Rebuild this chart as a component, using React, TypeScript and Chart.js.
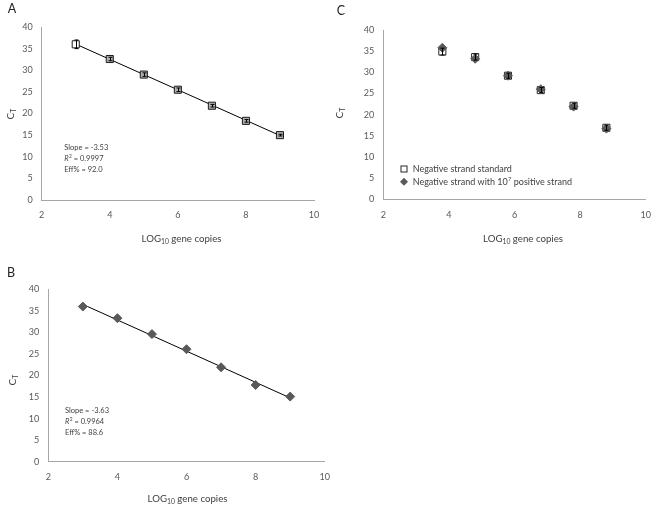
import React, { useEffect, useRef } from "react";
import { Chart, registerables } from "chart.js";

Chart.register(...registerables);

// ---------------- data ----------------
const xTickValues = [2, 4, 6, 8, 10];
const yTickValues = [0, 5, 10, 15, 20, 25, 30, 35, 40];

const logCopiesA = [3, 4, 5, 6, 7, 8, 9];
const ctA = [36.0, 32.6, 29.0, 25.5, 21.8, 18.3, 15.0];
const errA = [1.0, 0.4, 0.4, 0.4, 0.3, 0.3, 0.2];
const trendXA = [3, 9];
const trendYA = [36.05, 14.9];
const statsA = ["Slope = -3.53", " = 0.9997", "Eff% = 92.0"];

const logCopiesB = [3, 4, 5, 6, 7, 8, 9];
const ctB = [36.0, 33.3, 29.6, 26.1, 21.9, 17.8, 15.1];
const trendXB = [3, 9];
const trendYB = [36.5, 14.8];
const statsB = ["Slope = -3.63", " = 0.9964", "Eff% = 88.6"];

const logCopiesC = [3.8, 4.8, 5.8, 6.8, 7.8, 8.8];
const ctCStandard = [34.9, 33.6, 29.2, 25.8, 22.1, 16.9];
const errCStandard = [0.8, 0.7, 0.6, 0.6, 0.6, 0.6];
const ctCWithPositive = [35.8, 33.2, 29.2, 26.0, 21.9, 16.7];
const legendC = ["Negative strand standard", "Negative strand with 10", "7", " positive strand"];

const panelLabels = ["A", "B", "C"];

// ---------------- styling helpers ----------------
const FONT = "Lato, 'Open Sans', sans-serif";
const TEXT = "#404040";
const AXIS = "#a6a6a6";
const DARK = "#595959";

const pts = (xs: number[], ys: number[]) => xs.map((x, i) => ({ x, y: ys[i] }));

let measureCtx: CanvasRenderingContext2D | null = null;
function textWidth(text: string, size: number, style = ""): number {
  if (!measureCtx) measureCtx = document.createElement("canvas").getContext("2d");
  const c = measureCtx as CanvasRenderingContext2D;
  c.font = `${style}${size}px ${FONT}`;
  return c.measureText(text).width;
}
// font size so that the text has the width seen in the reference
function fitSize(widthAt10: number, target: number) {
  return (10 * target) / widthAt10;
}

function drawXTitle(ctx: CanvasRenderingContext2D, cx: number, cy: number) {
  const w10 = textWidth("LOG", 10) + textWidth("10", 7) + textWidth(" gene copies", 10);
  const s = fitSize(w10, 80);
  const big = `${s}px ${FONT}`;
  const small = `${s * 0.7}px ${FONT}`;
  ctx.save();
  ctx.fillStyle = TEXT;
  ctx.textAlign = "left";
  ctx.textBaseline = "middle";
  ctx.font = big;
  const w1 = ctx.measureText("LOG").width;
  const w3 = ctx.measureText(" gene copies").width;
  ctx.font = small;
  const w2 = ctx.measureText("10").width;
  let x = cx - (w1 + w2 + w3) / 2;
  ctx.font = big;
  ctx.fillText("LOG", x, cy);
  x += w1;
  ctx.font = small;
  ctx.fillText("10", x, cy + 3);
  x += w2;
  ctx.font = big;
  ctx.fillText(" gene copies", x, cy);
  ctx.restore();
}

function drawYTitle(ctx: CanvasRenderingContext2D, cx: number, cy: number) {
  const big = `10px ${FONT}`;
  const small = `7px ${FONT}`;
  ctx.save();
  ctx.translate(cx, cy);
  ctx.rotate(-Math.PI / 2);
  ctx.fillStyle = TEXT;
  ctx.textAlign = "left";
  ctx.textBaseline = "middle";
  ctx.font = big;
  const w1 = ctx.measureText("C").width;
  ctx.font = small;
  const w2 = ctx.measureText("T").width;
  const x0 = -(w1 + w2) / 2;
  ctx.font = big;
  ctx.fillText("C", x0, 0);
  ctx.font = small;
  ctx.fillText("T", x0 + w1, 3);
  ctx.restore();
}

function drawStats(ctx: CanvasRenderingContext2D, stats: string[], x: number, y: number) {
  const s = fitSize(textWidth(stats[0], 10), 44);
  const f = `${s}px ${FONT}`;
  const fi = `italic ${s}px ${FONT}`;
  const fs = `${s * 0.65}px ${FONT}`;
  const lh = 11;
  ctx.save();
  ctx.fillStyle = TEXT;
  ctx.textAlign = "left";
  ctx.textBaseline = "middle";
  ctx.font = f;
  ctx.fillText(stats[0], x, y);
  ctx.font = fi;
  ctx.fillText("R", x, y + lh);
  let xx = x + ctx.measureText("R").width;
  ctx.font = fs;
  ctx.fillText("2", xx + 0.3, y + lh - 2.5);
  xx += ctx.measureText("2").width + 0.3;
  ctx.font = f;
  ctx.fillText(stats[1], xx, y + lh);
  ctx.fillText(stats[2], x, y + 2 * lh);
  ctx.restore();
}

function drawPanelLabel(ctx: CanvasRenderingContext2D, text: string, x: number, y: number) {
  ctx.save();
  ctx.fillStyle = "#222";
  ctx.font = `12.5px ${FONT}`;
  ctx.textAlign = "center";
  ctx.textBaseline = "middle";
  ctx.fillText(text, x, y);
  ctx.restore();
}

function drawLegendC(ctx: CanvasRenderingContext2D, mx: number, tx: number, y1: number, y2: number) {
  const w10 = textWidth(legendC[1], 10) + textWidth(legendC[2], 6.5) + textWidth(legendC[3], 10);
  const s = fitSize(w10, 159);
  const f = `${s}px ${FONT}`;
  const fs = `${s * 0.65}px ${FONT}`;
  ctx.save();
  // square marker
  ctx.fillStyle = "#fff";
  ctx.strokeStyle = "#262626";
  ctx.lineWidth = 1;
  ctx.fillRect(mx - 3, y1 - 3, 6, 6);
  ctx.strokeRect(mx - 3, y1 - 3, 6, 6);
  // diamond marker
  ctx.fillStyle = DARK;
  ctx.beginPath();
  ctx.moveTo(mx, y2 - 4);
  ctx.lineTo(mx + 4, y2);
  ctx.lineTo(mx, y2 + 4);
  ctx.lineTo(mx - 4, y2);
  ctx.closePath();
  ctx.fill();
  ctx.fillStyle = TEXT;
  ctx.textAlign = "left";
  ctx.textBaseline = "middle";
  ctx.font = f;
  ctx.fillText(legendC[0], tx, y1);
  ctx.fillText(legendC[1], tx, y2);
  let x = tx + ctx.measureText(legendC[1]).width;
  ctx.font = fs;
  ctx.fillText(legendC[2], x + 0.3, y2 - 3);
  x += ctx.measureText(legendC[2]).width + 0.3;
  ctx.font = f;
  ctx.fillText(legendC[3], x, y2);
  ctx.restore();
}

// ---------------- panels ----------------
type Area = { l: number; t: number; r: number; b: number };
type Panel = {
  key: string;
  left: number;
  top: number;
  w: number;
  h: number;
  area: Area;
  datasets: any[];
  overlay: (ctx: CanvasRenderingContext2D) => void;
};

const panels: Panel[] = [
  {
    key: "A",
    left: 0,
    top: 0,
    w: 330,
    h: 250,
    area: { l: 41.7, t: 27, r: 314, b: 200 },
    datasets: [
      {
        data: pts(logCopiesA, ctA),
        errorBars: errA,
        pointStyle: "rect",
        pointRadius: 5,
        pointBorderColor: "#1a1a1a",
        pointBorderWidth: 1,
        pointBackgroundColor: (c: any) => (c.dataIndex === 0 ? "#ffffff" : "#b0b0b0"),
        showLine: false,
      },
      {
        data: pts(trendXA, trendYA),
        showLine: true,
        pointRadius: 0,
        borderColor: "#000",
        borderWidth: 1,
      },
    ],
    overlay: (ctx) => {
      drawPanelLabel(ctx, panelLabels[0], 12, 9);
      drawXTitle(ctx, 181.5, 239);
      drawYTitle(ctx, 11, 114);
      drawStats(ctx, statsA, 64.3, 147.5);
    },
  },
  {
    key: "B",
    left: 0,
    top: 250,
    w: 340,
    h: 259,
    area: { l: 48.3, t: 39.3, r: 325, b: 211.7 },
    datasets: [
      {
        data: pts(logCopiesB, ctB),
        pointStyle: "rectRot",
        pointRadius: 4.5,
        pointBorderColor: DARK,
        pointBorderWidth: 1,
        pointBackgroundColor: DARK,
        showLine: false,
      },
      {
        data: pts(trendXB, trendYB),
        showLine: true,
        pointRadius: 0,
        borderColor: "#000",
        borderWidth: 1,
      },
    ],
    overlay: (ctx) => {
      drawPanelLabel(ctx, panelLabels[1], 11, 23);
      drawXTitle(ctx, 187.5, 249.3);
      drawYTitle(ctx, 13, 130);
      drawStats(ctx, statsB, 65, 161);
    },
  },
  {
    key: "C",
    left: 330,
    top: 0,
    w: 331,
    h: 250,
    area: { l: 53.3, t: 30, r: 322.7, b: 199.3 },
    datasets: [
      {
        data: pts(logCopiesC, ctCWithPositive),
        pointStyle: "rectRot",
        pointRadius: 4.5,
        pointBorderColor: DARK,
        pointBorderWidth: 1,
        pointBackgroundColor: DARK,
        showLine: false,
      },
      {
        data: pts(logCopiesC, ctCStandard),
        errorBars: errCStandard,
        pointStyle: "rect",
        pointRadius: 5,
        pointBorderColor: "#262626",
        pointBorderWidth: 1,
        pointBackgroundColor: "#ffffff",
        showLine: false,
      },
    ],
    overlay: (ctx) => {
      drawPanelLabel(ctx, panelLabels[2], 11, 11);
      drawXTitle(ctx, 193, 239);
      drawYTitle(ctx, 10, 113);
      drawLegendC(ctx, 74, 82.7, 169, 181.7);
    },
  },
];

const TICK_SIZE = fitSize(textWidth("40", 10), 10.5);

function scaleOpts(min: number, max: number, tickValues: number[], padding: number, fit: (s: any) => void) {
  return {
    type: "linear" as const,
    min,
    max,
    afterBuildTicks: (s: any) => {
      s.ticks = tickValues.map((v) => ({ value: v }));
    },
    afterFit: fit,
    grid: { display: false, drawTicks: false },
    border: { display: true, color: AXIS, width: 1 },
    ticks: {
      padding,
      color: DARK,
      font: { family: FONT, size: TICK_SIZE },
      maxRotation: 0,
      autoSkip: false,
    },
  };
}

const errorBarPlugin = {
  id: "errorBars",
  afterDatasetsDraw(chart: any) {
    const ctx = chart.ctx;
    const yScale = chart.scales.y;
    ctx.save();
    ctx.strokeStyle = "#000";
    ctx.lineWidth = 1;
    chart.data.datasets.forEach((ds: any, i: number) => {
      if (!ds.errorBars) return;
      const meta = chart.getDatasetMeta(i);
      meta.data.forEach((el: any, j: number) => {
        const v = ds.data[j].y;
        const e = ds.errorBars[j];
        const yTop = yScale.getPixelForValue(v + e);
        const yBot = yScale.getPixelForValue(v - e);
        const x = Math.round(el.x) + 0.5;
        ctx.beginPath();
        ctx.moveTo(x, yTop);
        ctx.lineTo(x, yBot);
        ctx.moveTo(x - 2, yTop);
        ctx.lineTo(x + 2, yTop);
        ctx.moveTo(x - 2, yBot);
        ctx.lineTo(x + 2, yBot);
        ctx.stroke();
      });
    });
    ctx.restore();
  },
};

function buildConfig(p: Panel): any {
  const a = p.area;
  return {
    type: "scatter",
    data: { datasets: p.datasets },
    options: {
      animation: false,
      responsive: false,
      maintainAspectRatio: false,
      events: [],
      layout: { padding: { top: a.t, right: p.w - a.r, left: 0, bottom: 0 } },
      plugins: { legend: { display: false }, tooltip: { enabled: false } },
      scales: {
        x: scaleOpts(2, 10, xTickValues, 10, (s: any) => {
          s.height = p.h - a.b;
        }),
        y: scaleOpts(0, 40, yTickValues, 9, (s: any) => {
          s.width = a.l;
        }),
      },
    },
    plugins: [
      errorBarPlugin,
      {
        id: "overlay" + p.key,
        afterDraw(chart: any) {
          p.overlay(chart.ctx);
        },
      },
    ],
  };
}

function PanelChart({ panel }: { panel: Panel }) {
  const ref = useRef<HTMLCanvasElement | null>(null);
  useEffect(() => {
    if (!ref.current) return;
    const chart = new Chart(ref.current, buildConfig(panel));
    return () => chart.destroy();
  }, [panel]);
  return (
    <canvas
      ref={ref}
      width={panel.w}
      height={panel.h}
      style={{ position: "absolute", left: panel.left, top: panel.top, width: panel.w, height: panel.h }}
    />
  );
}

export default function App() {
  return (
    <div
      style={{
        position: "absolute",
        left: 0,
        top: 0,
        width: 661,
        height: 509,
        background: "#fff",
        overflow: "hidden",
      }}
    >
      {panels.map((p) => (
        <PanelChart key={p.key} panel={p} />
      ))}
    </div>
  );
}
